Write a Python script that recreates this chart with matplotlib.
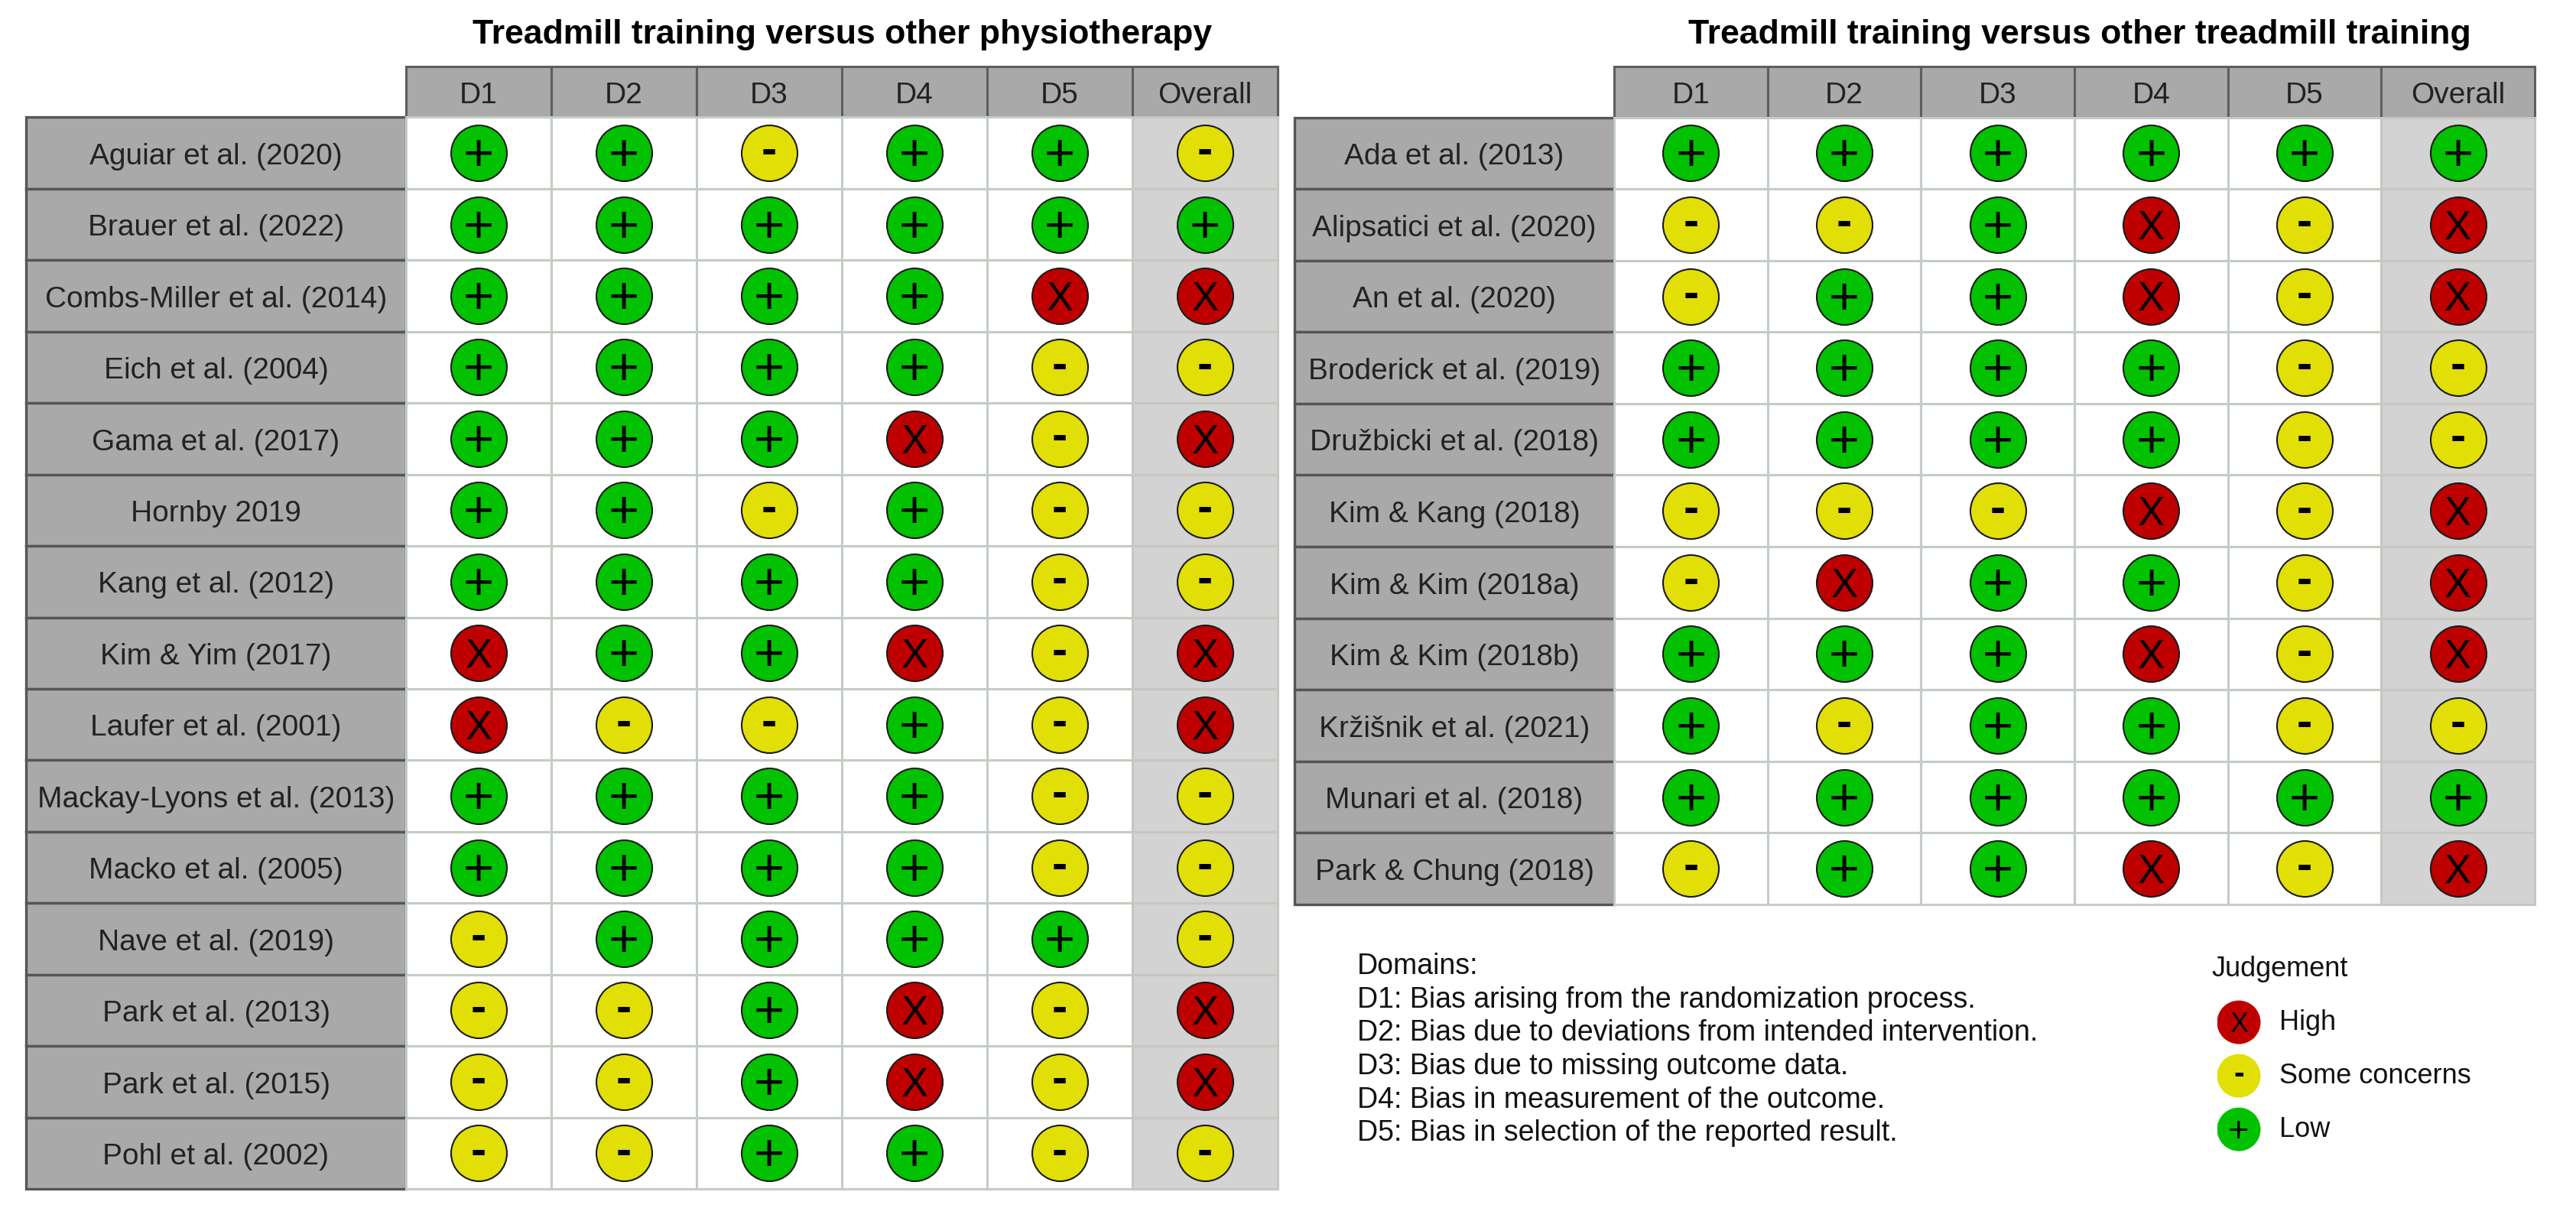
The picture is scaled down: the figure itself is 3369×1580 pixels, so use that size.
import matplotlib
matplotlib.use('Agg')
import matplotlib.pyplot as plt
from matplotlib.patches import Rectangle

plt.rcParams['font.family'] = ['Liberation Sans', 'DejaVu Sans']

# Data
domains = ['D1', 'D2', 'D3', 'D4', 'D5', 'Overall']

title_left = 'Treadmill training versus other physiotherapy'
studies_left = ['Aguiar et al. (2020)', 'Brauer et al. (2022)', 'Combs-Miller et al. (2014)',
                'Eich et al. (2004)', 'Gama et al. (2017)', 'Hornby 2019', 'Kang et al. (2012)',
                'Kim & Yim (2017)', 'Laufer et al. (2001)', 'Mackay-Lyons et al. (2013)',
                'Macko et al. (2005)', 'Nave et al. (2019)', 'Park et al. (2013)',
                'Park et al. (2015)', 'Pohl et al. (2002)']
ratings_left = ['++-++-', '++++++', '++++XX', '++++--', '+++X-X', '++-+--', '++++--',
                'X++X-X', 'X--+-X', '++++--', '++++--', '-++++-',
                '--+X-X', '--+X-X', '--++--']

title_right = 'Treadmill training versus other treadmill training'
studies_right = ['Ada et al. (2013)', 'Alipsatici et al. (2020)', 'An et al. (2020)',
                 'Broderick et al. (2019)', 'Družbicki et al. (2018)', 'Kim & Kang (2018)',
                 'Kim & Kim (2018a)', 'Kim & Kim (2018b)', 'Kržišnik et al. (2021)',
                 'Munari et al. (2018)', 'Park & Chung (2018)']
ratings_right = ['++++++', '--+X-X', '-++X-X', '++++--', '++++--', '---X-X', '-X++-X',
                 '+++X-X', '+-++--', '++++++', '-++X-X']

domain_notes = ['Domains:', 'D1: Bias arising from the randomization process.',
                'D2: Bias due to deviations from intended intervention.',
                'D3: Bias due to missing outcome data.',
                'D4: Bias in measurement of the outcome.',
                'D5: Bias in selection of the reported result.']
legend_labels = ['High', 'Some concerns', 'Low']
legend_codes = ['X', '-', '+']

colors = {'X': '#BF0000', '-': '#E2DF07', '+': '#02C100'}
W, H = 3369, 1580
DPI = 100
PT = 72 / DPI  # points per pixel

# baseline shift (em) that centres each glyph on its circle
sym_em = {'X': 0.358, '-': 0.235, '+': 0.335}
sym_scale = {'X': 1.0, '-': 1.15, '+': 1.3}


def add_px_axes(fig, x0, y0, x1, y1):
    ax = fig.add_axes([x0 / W, 1 - y1 / H, (x1 - x0) / W, (y1 - y0) / H])
    ax.axis('off')
    return ax


def symbol(ax, x, y, code, size):
    size = size * sym_scale[code]
    ax.annotate(code, (x, y), xytext=(0, -sym_em[code] * size), textcoords='offset points',
                ha='center', va='baseline', fontsize=size, color='black', zorder=5,
                fontweight='bold' if code == '-' else 'normal')


def draw_table(fig, box, title, title_x, studies, ratings):
    x0, y0, x1, y1, label_w, row_h = box
    col_w = (x1 - label_w - x0) / 6
    head = (153.5 - y0) / row_h
    n = len(studies)
    lab = label_w / col_w
    ax = add_px_axes(fig, x0, y0, x1, y1)
    ax.set_xlim(-lab, 6)
    ax.set_ylim(n, -head)
    for j, d in enumerate(domains):
        ax.add_patch(Rectangle((j, -head), 1, head, fc='#A9A9A9', ec='#5E5E5E', lw=2.2, clip_on=False))
        ax.text(j + 0.5, -head / 2 + 0.05, d, ha='center', va='center', fontsize=28, color='#222222')
    for i, s in enumerate(studies):
        ax.add_patch(Rectangle((-lab, i), lab, 1, fc='#A9A9A9', ec='#555555', lw=2.4, clip_on=False))
        ax.text(-lab / 2, i + 0.55, s, ha='center', va='center', fontsize=28, color='#222222')
        for j in range(6):
            fc = '#D3D3D3' if j == 5 else 'white'
            ec = '#C9C6C0' if j == 5 else '#C3CDC3'
            ax.add_patch(Rectangle((j, i), 1, 1, fc=fc, ec=ec, lw=2.2, clip_on=False, zorder=1))
            code = ratings[i][j]
            ax.scatter(j + 0.5, i + 0.5, s=(73 * PT) ** 2, c=colors[code], edgecolors='#1A1A1A',
                       linewidths=1.5, zorder=4, clip_on=False)
            symbol(ax, j + 0.5, i + 0.5, code, 38)
    fig.text(title_x / W, 1 - 57 / H, title, ha='center', va='baseline',
             fontsize=32, fontweight='bold', color='black')


fig = plt.figure(figsize=(W / DPI, H / DPI), dpi=DPI)

draw_table(fig, (34, 87, 1671, 1555, 497, 93.47), title_left, 1102, studies_left, ratings_left)
draw_table(fig, (1693, 87, 3315, 1183, 418, 93.5), title_right, 2720, studies_right, ratings_right)

# domain notes
for k, line in enumerate(domain_notes):
    fig.text(1775 / W, 1 - (1274 + k * 43.7) / H, line, ha='left', va='baseline',
             fontsize=27, color='#111111')

# judgement legend
fig.text(2892 / W, 1 - 1277 / H, 'Judgement', ha='left', va='baseline', fontsize=26, color='#111111')
lax = add_px_axes(fig, 2900, 1300, 3300, 1510)
lax.set_xlim(0, 400)
lax.set_ylim(2.5, -0.5)
for k, (lbl, code) in enumerate(zip(legend_labels, legend_codes)):
    lax.scatter(28, k + 0.03, s=(57 * PT) ** 2, c=colors[code], edgecolors='none', zorder=3)
    symbol(lax, 28, k + 0.03, code, 26)
    lax.text(81, k + 0.03, lbl, ha='left', va='center', fontsize=26, color='#111111')

fig.savefig('out.png', dpi=DPI, facecolor='white')
